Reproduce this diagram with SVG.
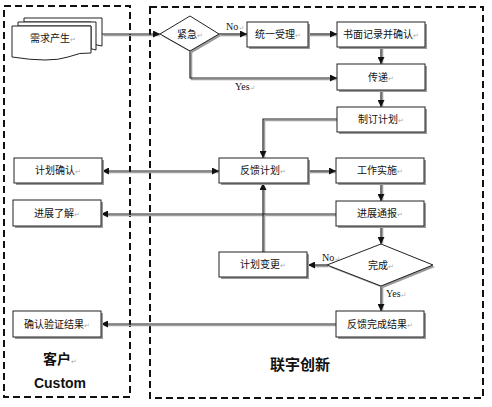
<svg xmlns="http://www.w3.org/2000/svg" width="492" height="407" viewBox="0 0 492 407">
<defs>
<style>
.lane{fill:none;stroke:#111;stroke-width:2;stroke-dasharray:7 4}
.box{fill:#fff;stroke:#222;stroke-width:1}
.sh{fill:#9a9a9a}
.t{font-family:"Liberation Sans","Noto Sans CJK SC",sans-serif;font-size:10px;fill:#111;text-anchor:middle}
.pm{fill:#aaa;font-size:7px}
.lbl{font-family:"Liberation Serif","DejaVu Serif",serif;font-size:10px;fill:#111}
.big{font-family:"Liberation Sans","Noto Sans CJK SC",sans-serif;font-weight:bold;fill:#111;text-anchor:middle}
.c{fill:none;stroke:#222;stroke-width:1.2}
.cs{fill:none;stroke:#a0a0a0;stroke-width:1.6}
</style>
<marker id="ah" viewBox="0 0 10 10" refX="10" refY="5" markerWidth="7" markerHeight="7" markerUnits="userSpaceOnUse" orient="auto-start-reverse">
<path d="M0,0 L10,5 L0,10 z" fill="#111"/>
</marker>
</defs>
<rect width="492" height="407" fill="#fff"/>
<g id="lanes">
<rect class="lane" x="4" y="6" width="126" height="391"/>
<rect class="lane" x="150" y="7" width="333" height="391"/>
</g>
<g id="connectors">
<g transform="translate(1.5,1.5)">
<path class="cs" d="M102 34 H158"/>
<path class="cs" d="M219 34 H245"/>
<path class="cs" d="M308 34 H335"/>
<path class="cs" d="M381 47 V62"/>
<path class="cs" d="M190 51 V78 H335"/>
<path class="cs" d="M381 90 V105"/>
<path class="cs" d="M337 119 H263 V156"/>
<path class="cs" d="M104 171 H217"/>
<path class="cs" d="M308 171 H334"/>
<path class="cs" d="M381 183 V199"/>
<path class="cs" d="M336 214 H103"/>
<path class="cs" d="M381 226 V242"/>
<path class="cs" d="M327 265 H310"/>
<path class="cs" d="M263 252 V185"/>
<path class="cs" d="M381 286 V309"/>
<path class="cs" d="M336 324 H103"/>
</g>
<path class="c" d="M102 34 H160" marker-end="url(#ah)"/>
<path class="c" d="M219 34 H247" marker-end="url(#ah)"/>
<path class="c" d="M308 34 H337" marker-end="url(#ah)"/>
<path class="c" d="M381 47 V64" marker-end="url(#ah)"/>
<path class="c" d="M190 51 V78 H337" marker-end="url(#ah)"/>
<path class="c" d="M381 90 V107" marker-end="url(#ah)"/>
<path class="c" d="M337 119 H263 V158" marker-end="url(#ah)"/>
<path class="c" d="M102 171 H219" marker-start="url(#ah)" marker-end="url(#ah)"/>
<path class="c" d="M308 171 H336" marker-end="url(#ah)"/>
<path class="c" d="M381 183 V201" marker-end="url(#ah)"/>
<path class="c" d="M336 214 H101" marker-end="url(#ah)"/>
<path class="c" d="M381 226 V244" marker-end="url(#ah)"/>
<path class="c" d="M327 265 H308" marker-end="url(#ah)"/>
<path class="c" d="M263 252 V183" marker-end="url(#ah)"/>
<path class="c" d="M381 286 V311" marker-end="url(#ah)"/>
<path class="c" d="M336 324 H101" marker-end="url(#ah)"/>
<text class="lbl" x="226" y="30">No<tspan class="pm">↵</tspan></text>
<text class="lbl" x="235" y="90">Yes<tspan class="pm">↵</tspan></text>
<text class="lbl" x="322" y="261">No<tspan class="pm">↵</tspan></text>
<text class="lbl" x="386" y="297">Yes<tspan class="pm">↵</tspan></text>
</g>
<g id="n-demand">
<path class="box" d="M24 18 H102 V46 Q95 44 91 45 L91 22 H24 Z"/>
<path class="box" d="M18 22 H96 V50 Q93 49 91 49 L91 26 H18 Z"/>
<path class="box" d="M12 26 H91 V53 Q80 52 68 57 Q50 63 12 57 Z"/>
<text class="t" x="53" y="42">需求产生<tspan class="pm">↵</tspan></text>
</g>
<g id="n-urgent">
<path class="sh" d="M162 36 L192 18 L221 36 L192 53 Z"/>
<path class="box" d="M160 34 L190 16 L219 34 L190 51 Z"/>
<text class="t" x="190" y="38">紧急<tspan class="pm">↵</tspan></text>
</g>
<g id="n-accept">
<rect class="sh" x="249" y="24" width="61" height="25"/>
<rect class="box" x="247" y="22" width="61" height="25"/>
<text class="t" x="278" y="38">统一受理<tspan class="pm">↵</tspan></text>
</g>
<g id="n-record">
<rect class="sh" x="339" y="24" width="88" height="25"/>
<rect class="box" x="337" y="22" width="88" height="25"/>
<text class="t" x="381" y="38">书面记录并确认<tspan class="pm">↵</tspan></text>
</g>
<g id="n-pass">
<rect class="sh" x="339" y="66" width="88" height="26"/>
<rect class="box" x="337" y="64" width="88" height="26"/>
<text class="t" x="381" y="81">传递<tspan class="pm">↵</tspan></text>
</g>
<g id="n-plan">
<rect class="sh" x="339" y="109" width="88" height="25"/>
<rect class="box" x="337" y="107" width="88" height="25"/>
<text class="t" x="381" y="123">制订计划<tspan class="pm">↵</tspan></text>
</g>
<g id="n-feedback">
<rect class="sh" x="221" y="160" width="89" height="25"/>
<rect class="box" x="219" y="158" width="89" height="25"/>
<text class="t" x="263" y="174">反馈计划<tspan class="pm">↵</tspan></text>
</g>
<g id="n-work">
<rect class="sh" x="338" y="160" width="88" height="25"/>
<rect class="box" x="336" y="158" width="88" height="25"/>
<text class="t" x="380" y="174">工作实施<tspan class="pm">↵</tspan></text>
</g>
<g id="n-report">
<rect class="sh" x="338" y="203" width="88" height="25"/>
<rect class="box" x="336" y="201" width="88" height="25"/>
<text class="t" x="380" y="217">进展通报<tspan class="pm">↵</tspan></text>
</g>
<g id="n-done">
<path class="sh" d="M329 267 L383 246 L435 267 L383 288 Z"/>
<path class="box" d="M327 265 L381 244 L433 265 L381 286 Z"/>
<text class="t" x="381" y="269">完成<tspan class="pm">↵</tspan></text>
</g>
<g id="n-change">
<rect class="sh" x="221" y="254" width="88" height="25"/>
<rect class="box" x="219" y="252" width="88" height="25"/>
<text class="t" x="263" y="268">计划变更<tspan class="pm">↵</tspan></text>
</g>
<g id="n-result">
<rect class="sh" x="338" y="313" width="88" height="26"/>
<rect class="box" x="336" y="311" width="88" height="26"/>
<text class="t" x="380" y="328">反馈完成结果<tspan class="pm">↵</tspan></text>
</g>
<g id="n-confirm">
<rect class="sh" x="16" y="160" width="88" height="25"/>
<rect class="box" x="14" y="158" width="88" height="25"/>
<text class="t" x="58" y="174">计划确认<tspan class="pm">↵</tspan></text>
</g>
<g id="n-progress">
<rect class="sh" x="15" y="202" width="88" height="26"/>
<rect class="box" x="13" y="200" width="88" height="26"/>
<text class="t" x="57" y="217">进展了解<tspan class="pm">↵</tspan></text>
</g>
<g id="n-verify">
<rect class="sh" x="15" y="313" width="88" height="26"/>
<rect class="box" x="13" y="311" width="88" height="26"/>
<text class="t" x="57" y="328">确认验证结果<tspan class="pm">↵</tspan></text>
</g>
<g id="titles">
<text class="big" x="60" y="364" font-size="14">客户<tspan class="pm" font-weight="normal">↵</tspan></text>
<text class="big" x="60" y="388" font-size="14">Custom</text>
<text class="big" x="300" y="370" font-size="15">联宇创新</text>
</g>
</svg>
